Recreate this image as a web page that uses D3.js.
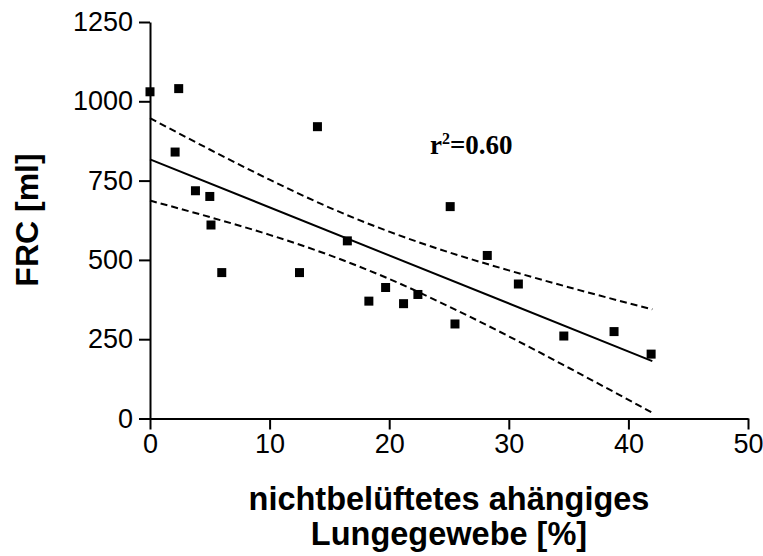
<!DOCTYPE html>
<html>
<head>
<meta charset="utf-8">
<script src="https://cdn.jsdelivr.net/npm/d3@7"></script>
<style>
  body { margin: 0; background: #fff; }
  .tick text { font-family: "Liberation Sans", Arial, sans-serif; }
</style>
</head>
<body>
<div id="chart"></div>
<script>
// data
var lungX = [0, 2.4, 14.0, 2.1, 3.8, 5.0, 5.1, 6.0, 12.5, 16.5, 18.3, 19.7, 21.2, 22.4, 25.1, 25.5, 28.2, 30.8, 34.6, 38.8, 41.9];
var frcY  = [1030, 1040, 920, 840, 718, 700, 610, 460, 460, 560, 370, 413, 362, 391, 668, 298, 514, 424, 260, 274, 203];

// regression line and 95% band
var fitX = [0, 42];
var fitY = [817, 181];
var bandX     = [0, 5, 10, 15, 20, 25, 30, 35, 42];
var bandUpper = [947, 848, 753, 665, 589, 524, 467, 414, 344];
var bandLower = [687, 635, 579, 515, 440, 353, 259, 160, 18];

var xTicks = [0, 10, 20, 30, 40, 50];
var yTicks = [0, 250, 500, 750, 1000, 1250];

var width = 763, height = 556;
var margin = {left: 150, top: 22};
var plotW = 598, plotH = 396.5;

var svg = d3.select('#chart').append('svg')
  .attr('width', width)
  .attr('height', height);

var chart = svg.append('g')
  .attr('transform', 'translate(' + margin.left + ',' + margin.top + ')');

///////////////////////
// Scales
var x = d3.scaleLinear().domain([0, 50]).range([0, plotW]);
var y = d3.scaleLinear().domain([0, 1250]).range([plotH, 0]);

///////////////////////
// Axis
var xAxis = d3.axisBottom(x).tickValues(xTicks).tickFormat(d3.format('d'))
  .tickSize(11).tickPadding(4).tickSizeOuter(0);
var yAxis = d3.axisLeft(y).tickValues(yTicks).tickFormat(d3.format('d'))
  .tickSize(11).tickPadding(6).tickSizeOuter(0);

var gx = chart.append('g')
  .attr('transform', 'translate(0,' + plotH + ')')
  .call(xAxis);
var gy = chart.append('g')
  .call(yAxis);

[gx, gy].forEach(function(g) {
  g.select('.domain').attr('stroke', '#000').attr('stroke-width', 2);
  g.selectAll('.tick line').attr('stroke', '#000').attr('stroke-width', 2);
  g.selectAll('.tick text').attr('fill', '#000').style('font-size', '27px');
});
gx.selectAll('.tick text').attr('dy', '0.71em');

////////////////////////
// lines
var line = d3.line()
  .x(function(d) { return x(d[0]); })
  .y(function(d) { return y(d[1]); });

chart.append('path')
  .datum(d3.zip(fitX, fitY))
  .attr('d', line)
  .attr('fill', 'none')
  .attr('stroke', '#000')
  .attr('stroke-width', 2);

var bandLine = d3.line()
  .x(function(d) { return x(d[0]); })
  .y(function(d) { return y(d[1]); })
  .curve(d3.curveMonotoneX);

[bandUpper, bandLower].forEach(function(b) {
  chart.append('path')
    .datum(d3.zip(bandX, b))
    .attr('d', bandLine)
    .attr('fill', 'none')
    .attr('stroke', '#000')
    .attr('stroke-width', 2)
    .attr('stroke-dasharray', '7,4');
});

////////////////////////
// points
var pts = d3.zip(lungX, frcY);
var sq = 9;
chart.selectAll('.pt')
  .data(pts)
  .enter().append('rect')
  .attr('class', 'pt')
  .attr('x', function(d) { return x(d[0]) - sq / 2; })
  .attr('y', function(d) { return y(d[1]) - sq / 2; })
  .attr('width', sq)
  .attr('height', sq)
  .attr('fill', '#000');

////////////////////////
// labels
var r2 = svg.append('text')
  .attr('x', 430)
  .attr('y', 154)
  .style('font-family', '"Liberation Serif", "Times New Roman", serif')
  .style('font-weight', 'bold')
  .style('font-size', '27px');
r2.append('tspan').text('r');
r2.append('tspan').attr('dy', -10).style('font-size', '16px').text('2');
r2.append('tspan').attr('dy', 10).text('=0.60');

svg.append('text')
  .attr('transform', 'translate(38,220) rotate(-90)')
  .attr('text-anchor', 'middle')
  .style('font-family', '"Liberation Sans", Arial, sans-serif')
  .style('font-weight', 'bold')
  .style('font-size', '32px')
  .text('FRC [ml]');

var xl = svg.append('text')
  .attr('text-anchor', 'middle')
  .style('font-family', '"Liberation Sans", Arial, sans-serif')
  .style('font-weight', 'bold')
  .style('font-size', '32.5px');
xl.append('tspan').attr('x', 449).attr('y', 510).text('nichtbelüftetes ahängiges');
xl.append('tspan').attr('x', 449).attr('y', 545).text('Lungegewebe [%]');
</script>
</body>
</html>
